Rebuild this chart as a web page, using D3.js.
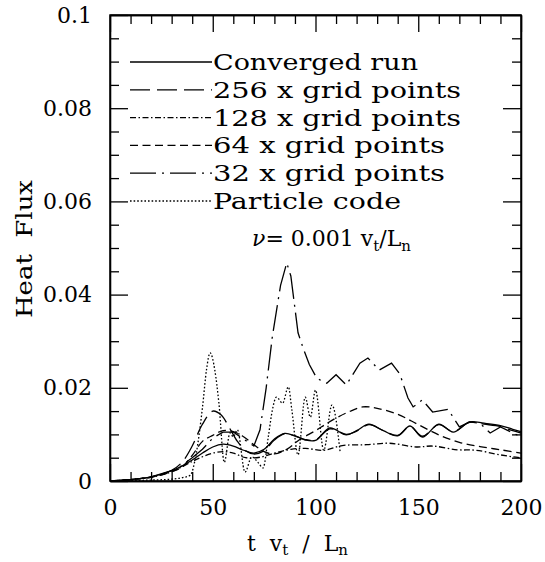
<!DOCTYPE html>
<html>
<head>
<meta charset="utf-8">
<script src="https://cdn.jsdelivr.net/npm/d3@7"></script>
<style>
  html, body { margin: 0; padding: 0; background: #fff; }
  svg { display: block; }
  text { font-family: "DejaVu Serif", "Liberation Serif", serif; fill: #000; white-space: pre; }
</style>
</head>
<body>
<svg id="chart" width="545" height="562"></svg>
<script>
// Heat flux time traces for different resolutions and a particle code
const tConverged = [0,10,20,30,35,40,45,50,55,60,65,70,75,80,85,90,95,100,107,115,120,126,133,140,146,152,160,167,175,182,190,196,200];
const fluxConverged = [0,0.0003,0.0009,0.0022,0.0032,0.0045,0.006,0.0073,0.0079,0.0075,0.0066,0.006,0.0068,0.009,0.0102,0.0097,0.0088,0.0087,0.0114,0.0099,0.0108,0.0122,0.0108,0.0097,0.0118,0.0094,0.0122,0.0105,0.0127,0.0124,0.0119,0.0111,0.0106];

const t256 = [0,10,20,30,35,40,45,50,54,58,62,66,70,75,80,85,90,95,100,107,115,120,126,133,140,146,152,160,167,175,182,190,196,200];
const flux256 = [0,0.0003,0.0009,0.0023,0.004,0.0075,0.0122,0.015,0.0142,0.0115,0.0085,0.0065,0.0058,0.0065,0.0088,0.0101,0.0097,0.0089,0.0088,0.0112,0.01,0.0107,0.0121,0.0108,0.0098,0.0117,0.0096,0.0121,0.0106,0.0126,0.0122,0.0117,0.0108,0.0103];

const t128 = [0,10,20,30,40,45,50,55,60,66,73,80,88,95,104,113,125,136,149,157,169,178,190,196,200];
const flux128 = [0,0.0003,0.0008,0.002,0.0042,0.0052,0.006,0.0063,0.006,0.005,0.0051,0.006,0.0068,0.007,0.0066,0.0076,0.0078,0.0081,0.0073,0.0075,0.0067,0.0066,0.0056,0.0052,0.005];

const t64 = [0,10,20,30,35,40,45,50,55,60,65,70,75,80,86,92,100,105,110,116,123,130,140,150,160,170,180,190,200];
const flux64 = [0,0.0003,0.0008,0.002,0.003,0.0055,0.0085,0.0098,0.0108,0.0106,0.0095,0.0078,0.0063,0.0058,0.0068,0.0088,0.0108,0.0122,0.0135,0.0148,0.0159,0.0156,0.0143,0.0121,0.0099,0.0083,0.0074,0.0067,0.006];

const t32 = [0,10,20,30,35,40,45,50,55,60,65,70,73,76,79,83,86,88,91.5,94,97,100.7,105.5,110,115,121.6,125.5,131,137,141,145,147.5,152,157,164.5,170,175,180,185,190,198,200];
const flux32 = [0,0.0003,0.0009,0.0022,0.0033,0.005,0.0068,0.0092,0.0105,0.0105,0.009,0.0075,0.011,0.02,0.031,0.042,0.0468,0.044,0.0318,0.0285,0.025,0.022,0.021,0.0228,0.0206,0.0253,0.0264,0.0238,0.0253,0.023,0.0178,0.0159,0.0174,0.0148,0.0154,0.0116,0.0127,0.0124,0.0103,0.0116,0.0099,0.0103];

const tParticle = [0,10,20,30,35,39,42,45,47,48.7,51,53,55.6,58.4,60,62,65.7,69,72,74.5,77,79,81,84,86.8,88.5,91.5,95,97.5,100,104,108,112];
const fluxParticle = [0,0.0001,0.0002,0.0004,0.0007,0.0012,0.006,0.0158,0.024,0.0275,0.0238,0.0167,0.004,0.0103,0.0095,0.011,0.0019,0.0052,0.004,0.0028,0.0094,0.0152,0.018,0.0167,0.0202,0.0152,0.0056,0.018,0.0137,0.0195,0.0066,0.0163,0.0062];

const legendLabels = ["Converged run","256 x grid points","128 x grid points","64 x grid points","32 x grid points","Particle code"];
const xTicks = [0,50,100,150,200];
const yTicks = [0,0.02,0.04,0.06,0.08,0.1];
const yTickLabels = ["0","0.02","0.04","0.06","0.08","0.1"];

const svg = d3.select("#chart");
const x = d3.scaleLinear().domain([0,200]).range([110,521]);
const y = d3.scaleLinear().domain([0,0.1]).range([481,15]);

const series = [
  { t: tConverged, v: fluxConverged, dash: null,            curve: d3.curveCatmullRom, label: legendLabels[0] },
  { t: t256,       v: flux256,       dash: "20,7",          curve: d3.curveCatmullRom, label: legendLabels[1] },
  { t: t128,       v: flux128,       dash: "6,2.5,1.5,2.5", curve: d3.curveCatmullRom, label: legendLabels[2] },
  { t: t64,        v: flux64,        dash: "8,4.5",         curve: d3.curveCatmullRom, label: legendLabels[3] },
  { t: t32,        v: flux32,        dash: "26,6,2,6",      curve: d3.curveLinear,     label: legendLabels[4] },
  { t: tParticle,  v: fluxParticle,  dash: "1.6,2",         curve: d3.curveMonotoneX,  label: legendLabels[5] }
];

// Data traces
const plot = svg.append("g");
series.forEach(s => {
  const pts = s.t.map((t, i) => [t, s.v[i]]);
  const line = d3.line().x(d => x(d[0])).y(d => y(d[1])).curve(s.curve);
  plot.append("path")
    .attr("d", line(pts))
    .attr("fill", "none")
    .attr("stroke", "#000")
    .attr("stroke-width", 1.3)
    .attr("stroke-dasharray", s.dash);
});

// Axes with inward ticks on all four sides
const xMinor = d3.range(0, 201, 10).filter(v => v % 50 !== 0);
const yMinor = d3.range(0, 0.1001, 0.005).filter(v => Math.abs(v / 0.02 - Math.round(v / 0.02)) > 1e-6);

function styleAxis(g) {
  g.selectAll("path, line").attr("stroke", "#000").attr("stroke-width", 1.3);
  g.selectAll("text").attr("font-family", '"DejaVu Serif", serif').attr("font-size", 22).attr("fill", "#000");
}

svg.append("g").attr("transform", "translate(0,481)")
  .call(d3.axisBottom(x).tickValues(xTicks).tickSize(-17).tickSizeOuter(0).tickPadding(18).tickFormat(d3.format("d")))
  .call(styleAxis);
svg.append("g").attr("transform", "translate(0,481)")
  .call(d3.axisBottom(x).tickValues(xMinor).tickSize(-9).tickSizeOuter(0).tickFormat(""))
  .call(styleAxis);
svg.append("g").attr("transform", "translate(0,15)")
  .call(d3.axisTop(x).tickValues(xTicks).tickSize(-17).tickSizeOuter(0).tickFormat(""))
  .call(styleAxis);
svg.append("g").attr("transform", "translate(0,15)")
  .call(d3.axisTop(x).tickValues(xMinor).tickSize(-9).tickSizeOuter(0).tickFormat(""))
  .call(styleAxis);

svg.append("g").attr("transform", "translate(110,0)")
  .call(d3.axisLeft(y).tickValues(yTicks).tickSize(-18).tickSizeOuter(0).tickPadding(18)
    .tickFormat((d, i) => yTickLabels[i]))
  .call(styleAxis);
svg.append("g").attr("transform", "translate(110,0)")
  .call(d3.axisLeft(y).tickValues(yMinor).tickSize(-9).tickSizeOuter(0).tickFormat(""))
  .call(styleAxis);
svg.append("g").attr("transform", "translate(521,0)")
  .call(d3.axisRight(y).tickValues(yTicks).tickSize(-18).tickSizeOuter(0).tickFormat(""))
  .call(styleAxis);
svg.append("g").attr("transform", "translate(521,0)")
  .call(d3.axisRight(y).tickValues(yMinor).tickSize(-9).tickSizeOuter(0).tickFormat(""))
  .call(styleAxis);

// Plot frame
svg.append("rect")
  .attr("x", 110).attr("y", 15).attr("width", 411).attr("height", 466)
  .attr("fill", "none").attr("stroke", "#000").attr("stroke-width", 1.5);

// Legend
const legendWidths = [205, 248, 248, 232, 232, 188];
const legend = svg.append("g");
series.forEach((s, i) => {
  const yy = 62 + i * 27.8;
  legend.append("line")
    .attr("x1", 130).attr("x2", 212).attr("y1", yy).attr("y2", yy)
    .attr("stroke", "#000").attr("stroke-width", 1.3)
    .attr("stroke-dasharray", s.dash);
  legend.append("text")
    .attr("x", 213).attr("y", yy + 8)
    .attr("font-size", 22)
    .attr("textLength", legendWidths[i]).attr("lengthAdjust", "spacingAndGlyphs")
    .text(s.label);
});

// Collision frequency annotation
const nu = svg.append("text").attr("x", 252).attr("y", 246).attr("font-size", 22);
nu.append("tspan").attr("font-style", "italic").text("ν");
nu.append("tspan").text("= 0.001 v");
nu.append("tspan").attr("font-size", 15).attr("dy", 5).text("t");
nu.append("tspan").attr("dy", -5).text("/L");
nu.append("tspan").attr("font-size", 15).attr("dy", 5).text("n");

// Axis titles
svg.append("text")
  .attr("transform", "translate(32,249) rotate(-90)")
  .attr("text-anchor", "middle")
  .attr("font-size", 22)
  .attr("textLength", 138).attr("lengthAdjust", "spacingAndGlyphs")
  .text("Heat  Flux");

const xl = svg.append("text").attr("x", 247).attr("y", 551).attr("font-size", 22);
xl.append("tspan").text("t  v");
xl.append("tspan").attr("font-size", 15).attr("dy", 4).text("t");
xl.append("tspan").attr("dy", -4).text("  /  L");
xl.append("tspan").attr("font-size", 15).attr("dy", 4).text("n");
</script>
</body>
</html>
